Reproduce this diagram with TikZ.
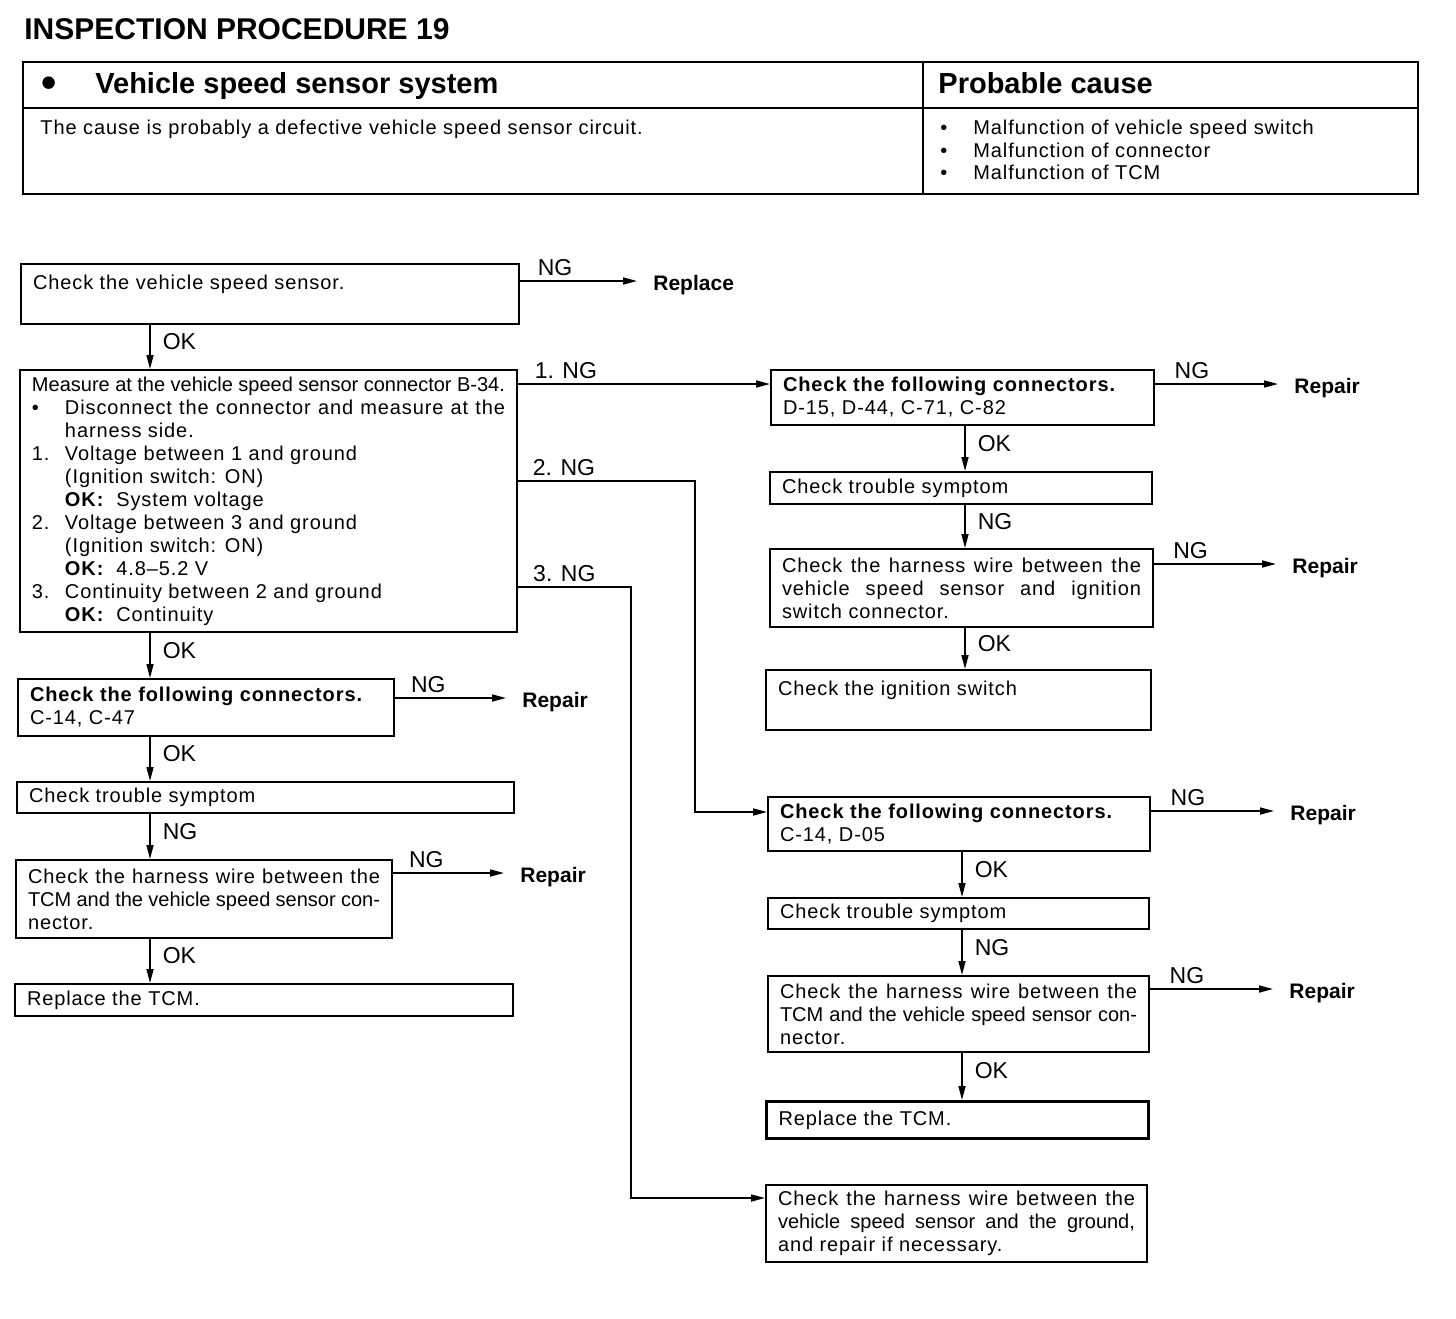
\documentclass[tikz,border=0pt]{standalone}
\usepackage{fontspec}
\setmainfont{Liberation Sans}
\newfontfamily\bodyfont[LetterSpace=4.5,Ligatures=TeX]{Liberation Sans}
\newfontfamily\tightfont[Ligatures=TeX]{Liberation Sans}
\usetikzlibrary{arrows.meta,positioning}
\newcommand{\vsitem}[1]{\makebox[16.5pt][l]{#1}}
\newcommand{\vsind}{\hspace*{16.5pt}}
\newcommand{\okmark}{\textbf{OK:}\hspace{6pt}}

\begin{document}
\begin{tikzpicture}[x=0.5pt, y=-0.5pt,
stepbox/.style={draw, line width=1pt, anchor=north west, align=justify,
inner xsep=6pt, inner ysep=2pt, font=\bodyfont\fontsize{10}{11.5}\selectfont},
lbl/.style={font=\fontsize{11.5}{13}\selectfont, inner sep=2pt},
outcome/.style={anchor=west, inner xsep=8pt, inner ysep=0pt, text height=9.5pt, text depth=0pt,
font=\bfseries\fontsize{10.5}{12}\selectfont},
arrow/.style={-{Triangle[length=7pt,width=3.5pt]}, line width=0.8pt},
tbl/.style={line width=1.2pt}
]
\useasboundingbox (0,0) rectangle (1456,1318);

% heading and cause table
\node[anchor=west, inner sep=0pt, font=\bfseries\fontsize{15}{18}\selectfont] (title) at (24,29) {INSPECTION PROCEDURE 19};
\draw[tbl] (23,62) rectangle (1418,194);
\draw[line width=0.8pt] (23,108) -- (1418,108);
\draw[line width=0.8pt] (923,62) -- (923,194);
\node[anchor=base west, inner sep=0pt, font=\bfseries\fontsize{14.5}{17}\selectfont] (sys) at (41,93)
{\makebox[27pt][l]{\raisebox{-.3ex}{\scalebox{1.5}{\textbullet}}}Vehicle speed sensor system};
\node[anchor=base west, inner sep=0pt, font=\bfseries\fontsize{14.5}{17}\selectfont] (causehd) at (938,93) {Probable cause};
\node[anchor=base west, inner sep=0pt, font=\bodyfont\fontsize{10}{11.5}\selectfont] (cause) at (40,134)
{The cause is probably a defective vehicle speed sensor circuit.};
\node[anchor=north west, inner sep=0pt, align=left, font=\bodyfont\fontsize{10}{11.25}\selectfont] (probs) at (940,120)
{\vsitem{\textbullet}Malfunction of vehicle speed switch\\
\vsitem{\textbullet}Malfunction of connector\\
\vsitem{\textbullet}Malfunction of TCM};

% left column
\node[stepbox, text width=237pt, minimum height=30pt] (b1) at (20,263) {Check the vehicle speed sensor.\\ \mbox{}};
\node[stepbox, text width=236.5pt, minimum height=131pt] (b2) at (19,369)
{{\tightfont Measure at the vehicle speed sensor connector B-34.}\linebreak
\vsitem{\textbullet}Disconnect the connector and measure at the\linebreak
\vsind harness side.\\
\vsitem{1.}Voltage between 1 and ground\\
\vsind (Ignition switch: ON)\\
\vsind \okmark System voltage\\
\vsitem{2.}Voltage between 3 and ground\\
\vsind (Ignition switch: ON)\\
\vsind \okmark 4.8\textendash5.2 V\\
\vsitem{3.}Continuity between 2 and ground\\
\vsind \okmark Continuity};
\node[stepbox, text width=176pt, minimum height=28.5pt] (b3) at (17,678)
{\textbf{Check the following connectors.}\\ C-14, C-47};
\node[stepbox, text width=236.5pt, minimum height=15.5pt] (b4) at (16,781) {Check trouble symptom};
\node[stepbox, text width=176pt, minimum height=39pt] (b5) at (15,859)
{Check the harness wire between the\linebreak
{\tightfont TCM and the vehicle speed sensor con-}\linebreak
nector.};
\node[stepbox, text width=237pt, minimum height=16pt] (b6) at (14,983) {Replace the TCM.};

% right column
\node[stepbox, text width=179.5pt, minimum height=27.5pt] (r1) at (770,369)
{\textbf{Check the following connectors.}\\ D-15, D-44, C-71, C-82};
\node[stepbox, text width=179pt, minimum height=16pt] (r2) at (769,471) {Check trouble symptom};
\node[stepbox, text width=179.5pt, minimum height=39pt] (r3) at (769,548)
{Check the harness wire between the\linebreak
vehicle speed sensor and ignition\linebreak
switch connector.};
\node[stepbox, text width=180.5pt, minimum height=30pt] (r4) at (765,669) {Check the ignition switch\\ \mbox{}};
\node[stepbox, text width=179pt, minimum height=27pt] (r5) at (767,796)
{\textbf{Check the following connectors.}\\ C-14, D-05};
\node[stepbox, text width=178.5pt, minimum height=15.5pt] (r6) at (767,897) {Check trouble symptom};
\node[stepbox, text width=178.5pt, minimum height=38pt] (r7) at (767,975)
{Check the harness wire between the\linebreak
{\tightfont TCM and the vehicle speed sensor con-}\linebreak
nector.};
\node[stepbox, line width=1.5pt, text width=179pt, minimum height=18.5pt] (r8) at (765,1100) {Replace the TCM.};
\node[stepbox, text width=178.5pt, minimum height=38.5pt] (r9) at (765,1184)
{Check the harness wire between the\linebreak
{\tightfont vehicle speed sensor and the ground,}\linebreak
and repair if necessary.};

% outcomes
\node[outcome] (rp0) at (637,281) {Replace};
\node[outcome] (rp1) at (506,698) {Repair};
\node[outcome] (rp2) at (504,873) {Repair};
\node[outcome] (rp3) at (1278,384) {Repair};
\node[outcome] (rp4) at (1276,564) {Repair};
\node[outcome] (rp5) at (1274,811) {Repair};
\node[outcome] (rp6) at (1273,989) {Repair};

\coordinate (lcol) at (150,0);
\coordinate (rcol) at (965,0);
\coordinate (rcolb) at (962,0);
\coordinate (t2) at (695,481);
\coordinate (t3) at (631,587);
\coordinate (in1) at ([yshift=-7.5pt]r1.north west);
\coordinate (in5) at ([yshift=-8pt]r5.north west);
\coordinate (in9) at ([yshift=-7pt]r9.north west);

% OK / NG flow
\draw[arrow] (b1.south -| lcol) -- node[lbl, right=4pt, pos=.38]{OK} (b2.north -| lcol);
\draw[arrow] (b2.south -| lcol) -- node[lbl, right=4pt, pos=.38]{OK} (b3.north -| lcol);
\draw[arrow] (b3.south -| lcol) -- node[lbl, right=4pt, pos=.38]{OK} (b4.north -| lcol);
\draw[arrow] (b4.south -| lcol) -- node[lbl, right=4pt, pos=.38]{NG} (b5.north -| lcol);
\draw[arrow] (b5.south -| lcol) -- node[lbl, right=4pt, pos=.38]{OK} (b6.north -| lcol);

\draw[arrow] (r1.south -| rcol) -- node[lbl, right=4pt, pos=.38]{OK} (r2.north -| rcol);
\draw[arrow] (r2.south -| rcol) -- node[lbl, right=4pt, pos=.38]{NG} (r3.north -| rcol);
\draw[arrow] (r3.south -| rcol) -- node[lbl, right=4pt, pos=.38]{OK} (r4.north -| rcol);
\draw[arrow] (r5.south -| rcolb) -- node[lbl, right=4pt, pos=.38]{OK} (r6.north -| rcolb);
\draw[arrow] (r6.south -| rcolb) -- node[lbl, right=4pt, pos=.38]{NG} (r7.north -| rcolb);
\draw[arrow] (r7.south -| rcolb) -- node[lbl, right=4pt, pos=.38]{OK} (r8.north -| rcolb);

\draw[arrow] (b1.east |- rp0) -- node[lbl, above, pos=.3]{NG} (rp0.west);
\draw[arrow] (b3.east |- rp1) -- node[lbl, above, pos=.3]{NG} (rp1.west);
\draw[arrow] (b5.east |- rp2) -- node[lbl, above, pos=.3]{NG} (rp2.west);
\draw[arrow] (r1.east |- rp3) -- node[lbl, above, pos=.3]{NG} (rp3.west);
\draw[arrow] (r3.east |- rp4) -- node[lbl, above, pos=.3]{NG} (rp4.west);
\draw[arrow] (r5.east |- rp5) -- node[lbl, above, pos=.3]{NG} (rp5.west);
\draw[arrow] (r7.east |- rp6) -- node[lbl, above, pos=.3]{NG} (rp6.west);

\draw[arrow] (b2.east |- in1) -- node[lbl, above, pos=.19]{1. NG} (in1);
\draw[arrow] (b2.east |- t2) -- node[lbl, above, pos=.26]{2. NG} (t2) |- (in5);
\draw[arrow] (b2.east |- t3) -- node[lbl, above, pos=.41]{3. NG} (t3) |- (in9);

\end{tikzpicture}
\end{document}
